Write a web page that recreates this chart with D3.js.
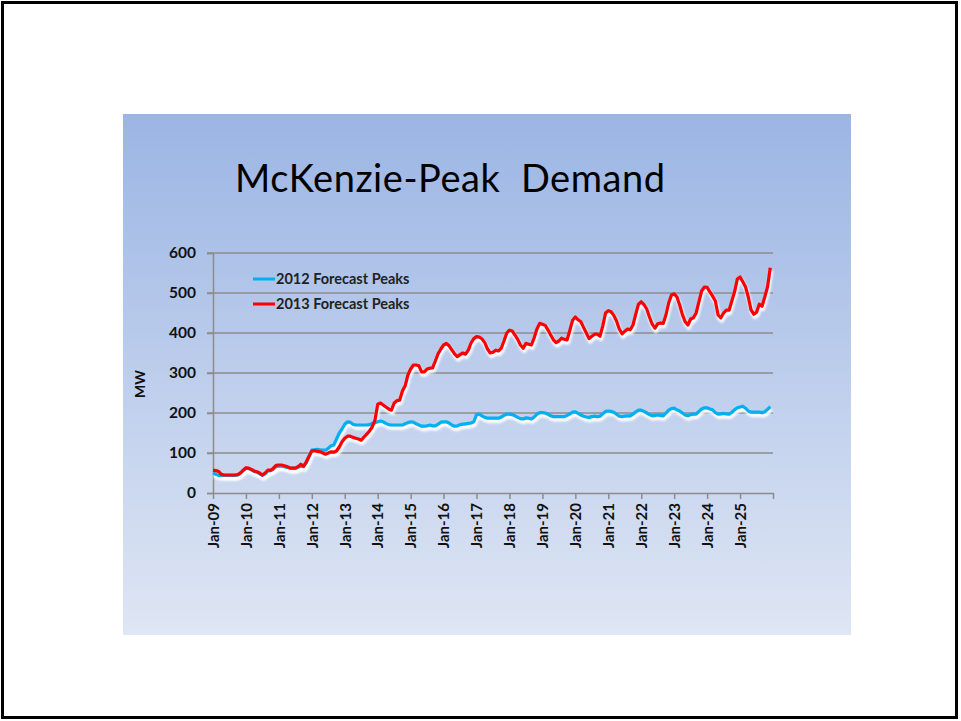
<!DOCTYPE html>
<html>
<head>
<meta charset="utf-8">
<script src="https://cdn.jsdelivr.net/npm/d3@7"></script>
<style>
  html, body { margin: 0; padding: 0; background: #fff; }
  svg { display: block; }
  text { font-family: Lato, "Open Sans", "Liberation Sans", sans-serif; }
</style>
</head>
<body>
<svg id="chart" width="961" height="721"></svg>
<script>
// ---------------- DATA ----------------
const chartTitle = "McKenzie-Peak  Demand";
const yAxisTitle = "MW";
const seriesNames = ["2012 Forecast Peaks", "2013 Forecast Peaks"];
const seriesColors = ["#00B0F0", "#FF0000"];
const yTicks = [0, 100, 200, 300, 400, 500, 600];
const xTickLabels = ["Jan-09","Jan-10","Jan-11","Jan-12","Jan-13","Jan-14","Jan-15","Jan-16","Jan-17",
                     "Jan-18","Jan-19","Jan-20","Jan-21","Jan-22","Jan-23","Jan-24","Jan-25"];
// monthly categories Jan-2009 .. Dec-2025
const months = d3.timeMonths(new Date(2009, 0, 1), new Date(2026, 0, 1));

// 2012 Forecast Peaks (MW), monthly
const forecast2012 = [
  50,47,44,44,44,44,44,44,44,45,50,56,
  62,61,58,54,52,48,44,48,55,56,60,66,
  67,67,66,64,62,62,62,64,67,66,76,92,
  107,108,109,108,107,107,112,118,120,135,150,160,
  172,178,177,172,170,170,170,170,170,171,174,176,
  178,180,178,174,171,170,170,170,170,170,173,176,
  178,177,173,170,167,167,168,170,168,168,172,177,
  178,178,175,170,167,168,171,172,173,174,175,178,
  196,197,193,189,187,187,187,187,187,190,194,197,
  197,196,193,189,186,185,188,187,185,190,197,201,
  201,200,197,193,191,191,191,191,191,194,198,202,
  203,199,195,192,190,189,191,192,191,192,198,204,
  205,204,202,197,192,191,192,193,193,197,203,207,
  207,204,200,196,193,194,195,194,193,200,207,211,
  212,208,205,200,195,193,196,197,197,204,210,213,
  213,210,208,201,197,198,199,198,197,202,208,213,
  215,217,212,205,202,202,202,202,201,203,209,216
];
// 2013 Forecast Peaks (MW), monthly
const forecast2013 = [
  57,56,54,47,45,45,45,45,45,46,50,57,
  63,62,59,55,53,50,45,50,57,57,62,69,
  70,70,68,66,63,62,62,66,72,67,78,92,
  105,106,104,103,100,97,100,103,102,105,115,128,
  137,142,142,139,137,135,132,140,147,155,165,182,
  222,225,220,215,210,207,225,231,232,255,268,295,
  310,320,320,318,303,303,310,312,313,330,348,360,
  370,374,368,358,348,341,346,350,347,357,375,386,
  391,390,385,376,360,350,352,357,355,362,380,400,
  407,405,395,384,370,362,374,372,370,388,410,424,
  422,419,408,395,383,376,380,387,384,383,407,432,
  440,433,428,414,400,386,392,397,397,392,418,450,
  456,453,444,430,410,398,404,410,408,420,447,472,
  478,471,460,440,422,412,423,425,424,445,475,495,
  498,490,470,446,428,420,435,438,450,478,505,515,
  514,503,492,480,445,438,450,457,457,480,503,535,
  540,528,515,490,458,447,452,472,467,490,515,563
];
const seriesData = [forecast2012, forecast2013];

// ---------------- DRAW ----------------
const svg = d3.select("#chart");
const defs = svg.append("defs");

const grad = defs.append("linearGradient").attr("id", "bg").attr("x1", 0).attr("y1", 0).attr("x2", 0).attr("y2", 1);
grad.append("stop").attr("offset", "0%").attr("stop-color", "#9BB5E4");
grad.append("stop").attr("offset", "100%").attr("stop-color", "#DFE6F4");

const glow = defs.append("filter").attr("id", "glow").attr("x", "-5%").attr("y", "-20%").attr("width", "110%").attr("height", "140%");
glow.append("feGaussianBlur").attr("stdDeviation", 1.3);

// outer slide border
svg.append("rect").attr("x", 2.5).attr("y", 2.5).attr("width", 954).attr("height", 715)
  .attr("fill", "#fff").attr("stroke", "#000").attr("stroke-width", 3);

// chart panel
svg.append("rect").attr("x", 123).attr("y", 114).attr("width", 728).attr("height", 521).attr("fill", "url(#bg)");

// title
svg.append("text").attr("x", 235).attr("y", 192).attr("text-anchor", "start")
  .attr("font-size", 38).attr("fill", "#000").style("white-space", "pre")
  .attr("textLength", 430).attr("lengthAdjust", "spacing").text(chartTitle);

const x = d3.scaleLinear().domain([0, months.length]).range([213, 773]);
const y = d3.scaleLinear().domain([0, 600]).range([493, 253]);

// gridlines
svg.append("g").selectAll("line").data(yTicks.filter(d => d > 0)).join("line")
  .attr("x1", 207).attr("x2", 773).attr("y1", d => y(d)).attr("y2", d => y(d))
  .attr("stroke", "#8C8C8C").attr("stroke-width", 1.5);

// y axis
const yAxis = svg.append("g").attr("transform", "translate(213,0)")
  .call(d3.axisLeft(y).tickValues(yTicks).tickSize(6).tickPadding(11));
yAxis.select(".domain").attr("stroke", "#8C8C8C").attr("stroke-width", 1.5);
yAxis.selectAll(".tick line").attr("stroke", "#8C8C8C").attr("stroke-width", 1.5);
yAxis.selectAll(".tick text").attr("font-size", 15.5).attr("font-weight", "bold").attr("fill", "#111")
  .attr("font-family", "Lato, sans-serif");

// x axis
const xTickVals = xTickLabels.map((d, i) => i * 12).concat([months.length]);
const xAxis = svg.append("g").attr("transform", "translate(0,493)")
  .call(d3.axisBottom(x).tickValues(xTickVals).tickSize(6).tickSizeOuter(0)
    .tickFormat((d, i) => xTickLabels[i] || ""));
xAxis.select(".domain").attr("stroke", "#8C8C8C").attr("stroke-width", 1.5);
xAxis.selectAll(".tick line").attr("stroke", "#8C8C8C").attr("stroke-width", 1.5);
xAxis.selectAll(".tick text")
  .attr("font-size", 15).attr("font-weight", "bold").attr("fill", "#111")
  .attr("font-family", "Lato, sans-serif")
  .attr("text-anchor", "end").attr("dy", "0.35em")
  .attr("transform", "translate(0,10) rotate(-90)").attr("x", 0).attr("y", 0);

// y axis title
svg.append("text").attr("transform", "translate(145,384) rotate(-90)").attr("text-anchor", "middle")
  .attr("font-size", 14).attr("font-weight", "bold").attr("fill", "#111").text(yAxisTitle);

// lines
const line = d3.line().x((d, i) => x(i)).y(d => y(d)).curve(d3.curveLinear);
seriesData.forEach((vals, k) => {
  svg.append("path").datum(vals).attr("d", line)
    .attr("fill", "none").attr("stroke", "#ffffff").attr("stroke-opacity", 0.95)
    .attr("stroke-width", 4).attr("stroke-linejoin", "round")
    .attr("transform", "translate(1,3)").attr("filter", "url(#glow)");
});
seriesData.forEach((vals, k) => {
  svg.append("path").datum(vals).attr("d", line)
    .attr("fill", "none").attr("stroke", seriesColors[k])
    .attr("stroke-width", 3.2).attr("stroke-linejoin", "round");
});

// legend
const legend = svg.append("g");
seriesNames.forEach((name, k) => {
  const ly = 279 + k * 25;
  legend.append("line").attr("x1", 253).attr("x2", 275).attr("y1", ly).attr("y2", ly)
    .attr("stroke", seriesColors[k]).attr("stroke-width", 3);
  legend.append("text").attr("x", 276).attr("y", ly).attr("dy", "0.35em")
    .attr("font-size", 14.5).attr("font-weight", "bold").attr("fill", "#222").text(name);
});
</script>
</body>
</html>
